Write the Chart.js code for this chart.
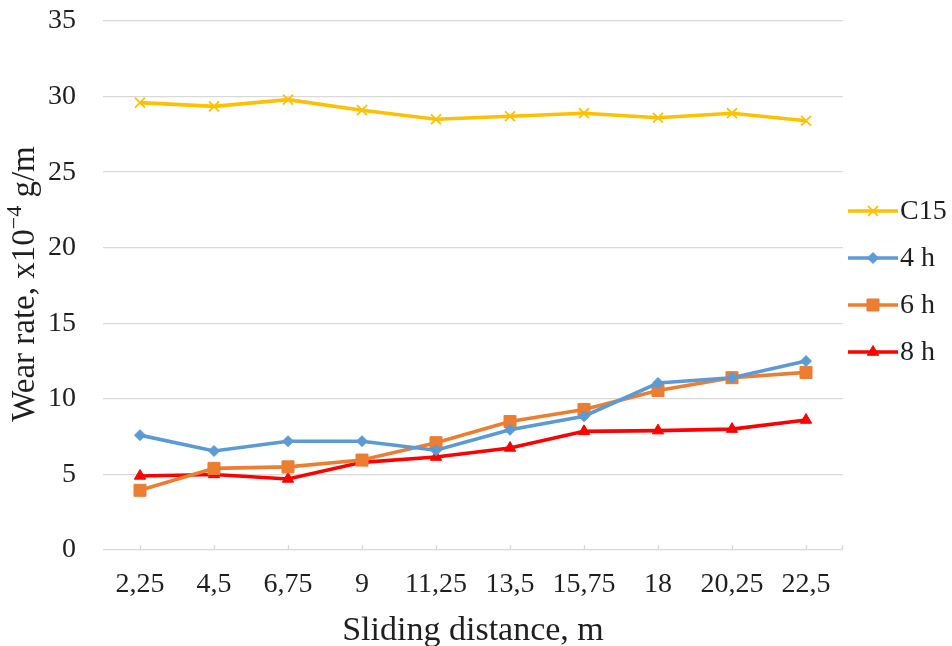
<!DOCTYPE html>
<html>
<head>
<meta charset="utf-8">
<script src="https://cdn.jsdelivr.net/npm/chart.js@4.4.1/dist/chart.umd.min.js"></script>
<style>
  html, body { margin: 0; padding: 0; background: #ffffff; }
  #wrap { width: 952px; height: 646px; }
</style>
</head>
<body>
<div id="wrap"><canvas id="chart" width="952" height="646"></canvas></div>
<script>
// Sliding distance, m
const distances = ['2,25', '4,5', '6,75', '9', '11,25', '13,5', '15,75', '18', '20,25', '22,5'];

// Wear rate, x10^-4 g/m
const c15 = [29.6, 29.35, 29.8, 29.1, 28.5, 28.7, 28.9, 28.6, 28.9, 28.4];
const h4  = [7.6, 6.55, 7.2, 7.2, 6.6, 7.95, 8.85, 11.05, 11.4, 12.5];
const h6  = [3.95, 5.4, 5.5, 5.95, 7.1, 8.5, 9.3, 10.55, 11.4, 11.75];
const h8  = [4.9, 5.0, 4.7, 5.8, 6.15, 6.75, 7.85, 7.9, 8.0, 8.6];

const yTicks = [0, 5, 10, 15, 20, 25, 30, 35];

const FONT = "'Liberation Serif', 'Times New Roman', serif";
const TEXT = '#1f1f1f';
const GRID = '#d9d9d9';

function series(label, data, color, style, radius, bw) {
  return {
    label, data,
    borderColor: color,
    backgroundColor: color,
    borderWidth: 3.6,
    pointStyle: style,
    pointRadius: radius,
    pointHoverRadius: radius,
    pointBorderWidth: bw,
    pointBorderColor: color,
    pointBackgroundColor: color,
    tension: 0,
    fill: false
  };
}

// Small upward tick marks on the category axis
const axisTicks = {
  id: 'axisTicks',
  afterDraw(chart) {
    const ctx = chart.ctx;
    const xs = chart.scales.x;
    const bottom = chart.chartArea.bottom;
    ctx.save();
    ctx.strokeStyle = GRID;
    ctx.lineWidth = 1.3;
    ctx.beginPath();
    for (let i = 0; i < distances.length; i++) {
      const px = Math.round(xs.getPixelForTick(i)) + 0.5;
      ctx.moveTo(px, bottom);
      ctx.lineTo(px, bottom - 5);
    }
    const r = Math.round(chart.chartArea.right) - 0.5;
    ctx.moveTo(r, bottom);
    ctx.lineTo(r, bottom - 5);
    ctx.stroke();
    ctx.restore();
  }
};

// Axis titles (the y title carries a superscript exponent)
const axisTitles = {
  id: 'axisTitles',
  afterDraw(chart) {
    const ctx = chart.ctx;
    const area = chart.chartArea;
    ctx.save();
    ctx.fillStyle = TEXT;
    ctx.textBaseline = 'alphabetic';

    // x title
    ctx.font = '34px ' + FONT;
    ctx.textAlign = 'center';
    ctx.fillText('Sliding distance, m', (area.left + area.right) / 2, 640);

    // y title, rotated
    const parts = [
      { t: 'Wear rate, x10', size: 33, rise: 0 },
      { t: '\u22124', size: 22, rise: 13 },
      { t: ' g/m', size: 33, rise: 0 }
    ];
    let total = 0;
    parts.forEach(p => { ctx.font = p.size + 'px ' + FONT; p.w = ctx.measureText(p.t).width; total += p.w; });
    ctx.translate(34, 284);
    ctx.rotate(-Math.PI / 2);
    ctx.textAlign = 'left';
    let x = -total / 2;
    parts.forEach(p => {
      ctx.font = p.size + 'px ' + FONT;
      ctx.fillText(p.t, x, -p.rise);
      x += p.w;
    });
    ctx.restore();
  }
};

// Legend on the right: line with marker, then label
const sideLegend = {
  id: 'sideLegend',
  afterDraw(chart) {
    const ctx = chart.ctx;
    const x0 = 848, x1 = 898, top = 211, step = 47;
    ctx.save();
    chart.data.datasets.forEach((ds, i) => {
      const y = top + i * step;
      ctx.strokeStyle = ds.borderColor;
      ctx.lineWidth = ds.borderWidth;
      ctx.beginPath();
      ctx.moveTo(x0, y);
      ctx.lineTo(x1, y);
      ctx.stroke();
      ctx.fillStyle = ds.pointBackgroundColor;
      ctx.strokeStyle = ds.pointBorderColor;
      ctx.lineWidth = ds.pointBorderWidth;
      Chart.helpers.drawPoint(ctx, {
        pointStyle: ds.pointStyle,
        rotation: 0,
        radius: ds.pointRadius,
        borderWidth: ds.pointBorderWidth
      }, (x0 + x1) / 2, y);
      ctx.fillStyle = TEXT;
      ctx.font = '28px ' + FONT;
      ctx.textAlign = 'left';
      ctx.textBaseline = 'middle';
      ctx.fillText(ds.label, x1 + 2, y + 1);
    });
    ctx.restore();
  }
};

new Chart(document.getElementById('chart'), {
  type: 'line',
  data: {
    labels: distances,
    datasets: [
      series('C15', c15, '#FFC000', 'crossRot', 7, 1.8),
      series('4 h', h4, '#5B9BD5', 'rectRot', 5.5, 1),
      series('6 h', h6, '#ED7D31', 'rect', 8.5, 1),
      series('8 h', h8, '#FF0000', 'triangle', 6.5, 1)
    ]
  },
  options: {
    responsive: false,
    animation: false,
    devicePixelRatio: 1,
    layout: { padding: { top: 21, right: 109, left: 0, bottom: 0 } },
    plugins: {
      legend: { display: false },
      tooltip: { enabled: false }
    },
    scales: {
      x: {
        type: 'category',
        offset: true,
        grid: { display: false, drawTicks: false },
        border: { display: false },
        ticks: {
          color: TEXT,
          font: { family: FONT, size: 28 },
          padding: 18,
          maxRotation: 0,
          autoSkip: false
        },
        afterFit(scale) { scale.height = 96; scale.paddingLeft = 0; scale.paddingRight = 0; }
      },
      y: {
        min: 0,
        max: 35,
        afterBuildTicks(scale) { scale.ticks = yTicks.map(v => ({ value: v })); },
        grid: { color: GRID, lineWidth: 1.3, drawTicks: false },
        border: { display: false },
        ticks: {
          color: TEXT,
          font: { family: FONT, size: 28 },
          padding: 27
        },
        afterFit(scale) { scale.width = 103; scale.paddingTop = 0; scale.paddingBottom = 0; }
      }
    }
  },
  plugins: [axisTicks, axisTitles, sideLegend]
});
</script>
</body>
</html>
